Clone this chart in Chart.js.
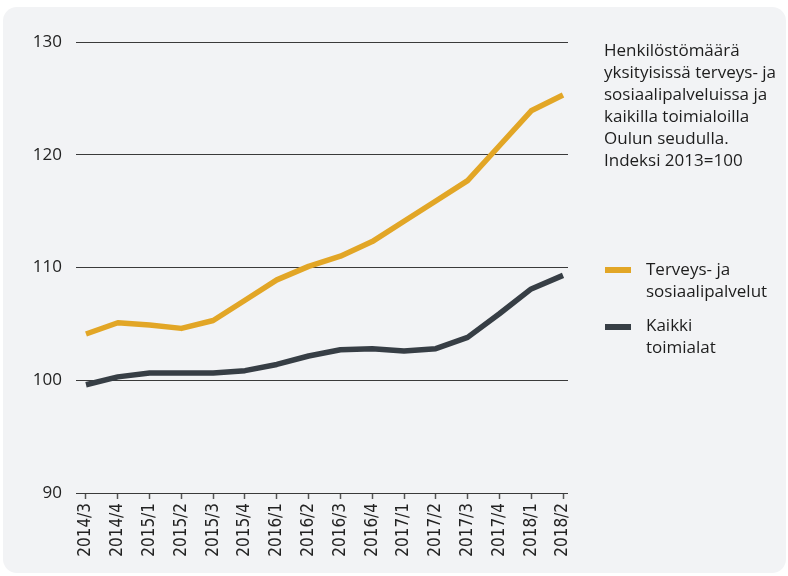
<!DOCTYPE html>
<html>
<head>
<meta charset="utf-8">
<script src="https://cdn.jsdelivr.net/npm/chart.js@4"></script>
<style>
  html, body { margin: 0; padding: 0; background: #fff; }
  #wrap { position: relative; width: 788px; height: 576px; overflow: hidden; }
  #panel { position: absolute; left: 3px; top: 7px; width: 783px; height: 566px; background: #f2f3f5; border-radius: 14px; }
  #chart { position: absolute; left: 0; top: 0; }
  .txt { position: absolute; font-family: "Open Sans", sans-serif; font-size: 17px; line-height: 22px; color: #1d1d1d; white-space: nowrap; }
  .swatch { position: absolute; width: 26px; height: 6px; }
</style>
</head>
<body>
<div id="wrap">
  <div id="panel"></div>
  <canvas id="chart" width="788" height="576"></canvas>
  <div class="txt" style="left:604px; top:39px;">Henkilöstömäärä<br>yksityisissä terveys- ja<br>sosiaalipalveluissa ja<br>kaikilla toimialoilla<br>Oulun seudulla.<br>Indeksi 2013=100</div>
  <div class="swatch" style="left:605px; top:267px; background:#e2a626;"></div>
  <div class="txt" style="left:646px; top:258px;">Terveys- ja<br>sosiaalipalvelut</div>
  <div class="swatch" style="left:605px; top:324px; background:#373e45;"></div>
  <div class="txt" style="left:646px; top:314px;">Kaikki<br>toimialat</div>
</div>
<script>
const quarters = ["2014/3", "2014/4", "2015/1", "2015/2", "2015/3", "2015/4", "2016/1", "2016/2",
                  "2016/3", "2016/4", "2017/1", "2017/2", "2017/3", "2017/4", "2018/1", "2018/2"];
const health = [104.1, 105.1, 104.9, 104.6, 105.3, 107.1, 108.9, 110.1,
                111.0, 112.3, 114.1, 115.9, 117.7, 120.8, 123.9, 125.3];
const allIndustries = [99.6, 100.3, 100.65, 100.65, 100.65, 100.85, 101.4, 102.15,
                       102.7, 102.8, 102.6, 102.8, 103.8, 105.9, 108.1, 109.3];
const yTicks = [90, 100, 110, 120, 130];

const toPoints = (arr) => arr.map((v, i) => ({ x: i, y: v }));

new Chart(document.getElementById("chart"), {
    type: "line",
    data: {
        datasets: [
            {
                label: "Terveys- ja sosiaalipalvelut",
                data: toPoints(health),
                borderColor: "#e2a626",
                borderWidth: 5.5,
                pointRadius: 0,
                borderJoinStyle: "round",
            },
            {
                label: "Kaikki toimialat",
                data: toPoints(allIndustries),
                borderColor: "#373e45",
                borderWidth: 5.5,
                pointRadius: 0,
                borderJoinStyle: "round",
            },
        ],
    },
    options: {
        responsive: false,
        animation: false,
        devicePixelRatio: 1,
        layout: { padding: { top: 42, right: 220, left: 0, bottom: 0 } },
        plugins: { legend: { display: false }, tooltip: { enabled: false } },
        scales: {
            x: {
                type: "linear",
                min: -0.157,
                max: quarters.length - 1 + 0.157,
                afterBuildTicks: (scale) => {
                    scale.ticks = quarters.map((q, i) => ({ value: i }));
                },
                afterFit: (scale) => { scale.height = 83; },
                border: { display: false },
                grid: { drawOnChartArea: false, tickLength: 6, tickColor: "#555", tickWidth: 1.5 },
                ticks: {
                    autoSkip: false,
                    minRotation: 90,
                    maxRotation: 90,
                    padding: 4,
                    color: "#222",
                    font: { family: "'Liberation Sans Narrow', 'DejaVu Sans Condensed', sans-serif", size: 17 },
                    callback: (v) => quarters[v],
                },
            },
            y: {
                min: yTicks[0],
                max: yTicks[yTicks.length - 1],
                afterBuildTicks: (scale) => {
                    scale.ticks = yTicks.map((v) => ({ value: v }));
                },
                afterFit: (scale) => { scale.width = 81; },
                border: { display: false },
                grid: { color: "#3a3a3a", tickLength: 5, lineWidth: 1 },
                ticks: {
                    padding: 14,
                    color: "#222",
                    font: { family: "'Open Sans', sans-serif", size: 17 },
                },
            },
        },
    },
});
</script>
</body>
</html>
